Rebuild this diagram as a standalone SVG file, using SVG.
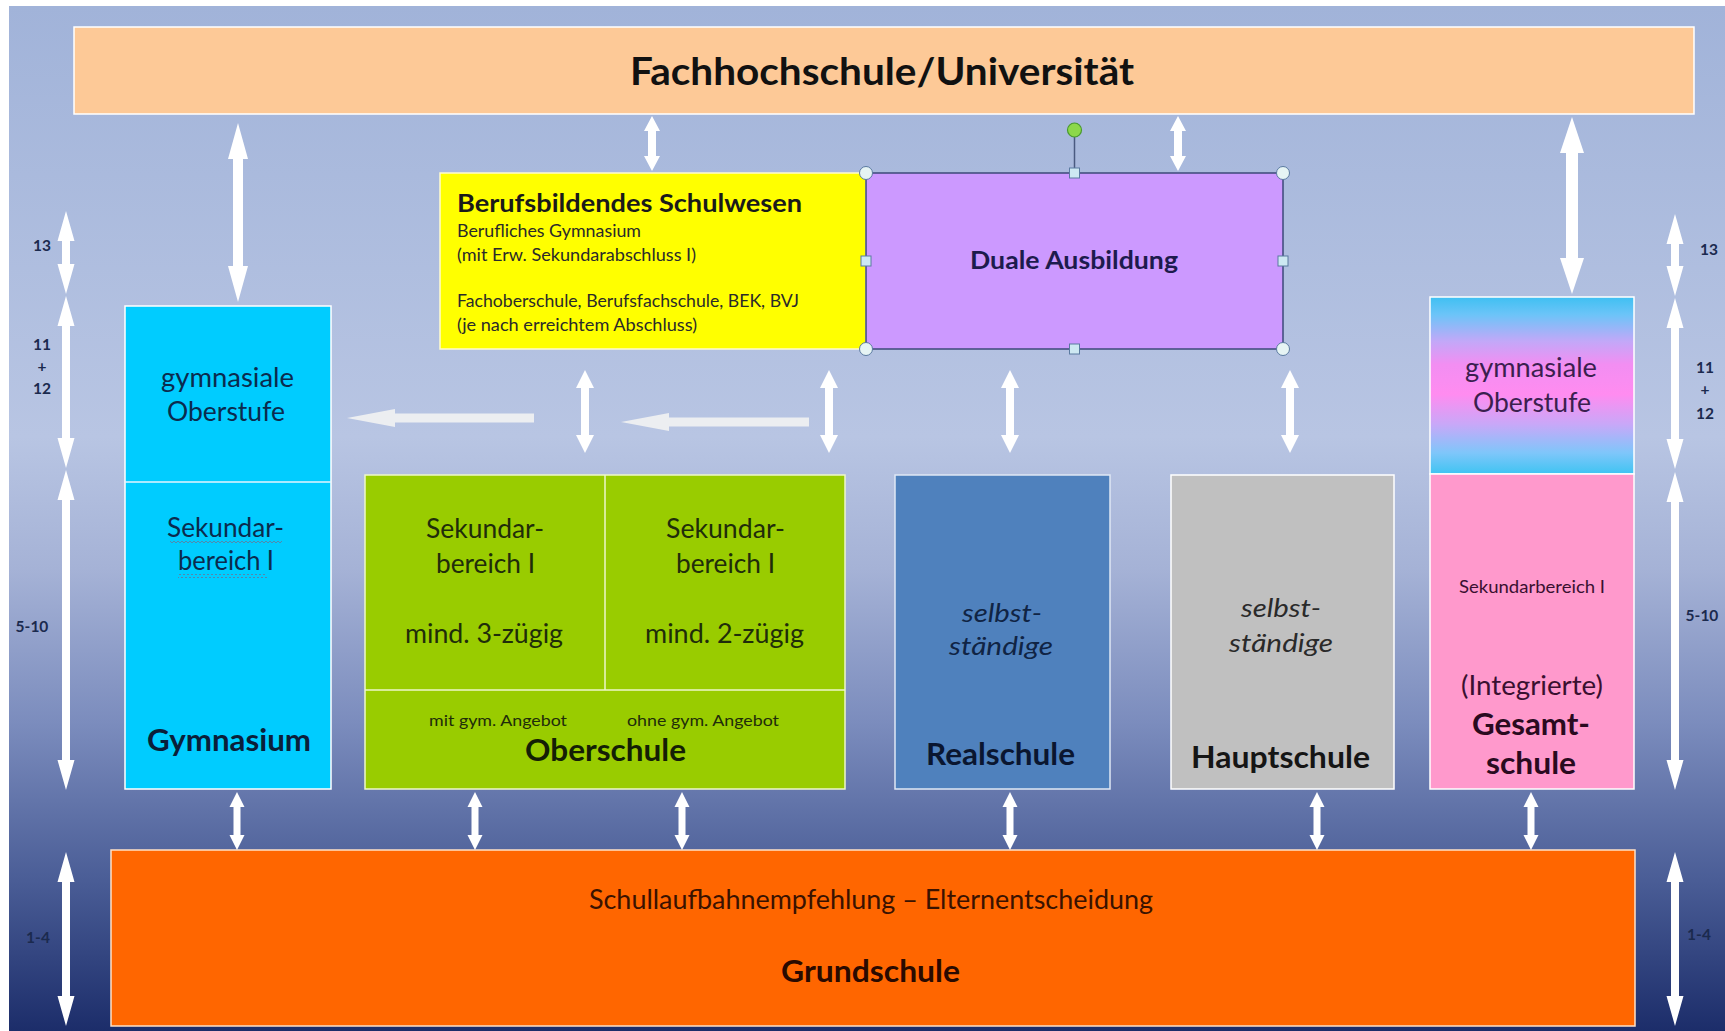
<svg xmlns="http://www.w3.org/2000/svg" width="1725" height="1031" viewBox="0 0 1725 1031">
<defs>
<linearGradient id="bg" x1="0" y1="0" x2="0" y2="1">
<stop offset="0" stop-color="#a1b3d9"/>
<stop offset="0.42" stop-color="#b8c5e3"/>
<stop offset="0.55" stop-color="#a5b2d6"/>
<stop offset="0.7" stop-color="#7b8cbd"/>
<stop offset="0.85" stop-color="#4b5e97"/>
<stop offset="1" stop-color="#1c2d6a"/>
</linearGradient>
<linearGradient id="gymo" x1="0" y1="0" x2="0" y2="1">
<stop offset="0" stop-color="#3fc0f2"/>
<stop offset="0.1" stop-color="#6cc4f8"/>
<stop offset="0.25" stop-color="#c2a8f8"/>
<stop offset="0.38" stop-color="#f28ef2"/>
<stop offset="0.55" stop-color="#ff8cf0"/>
<stop offset="0.72" stop-color="#c8a8f8"/>
<stop offset="0.88" stop-color="#7fc6fa"/>
<stop offset="1" stop-color="#3fc4f2"/>
</linearGradient>
<pattern id="wave" x="0" y="0" width="4" height="4" patternUnits="userSpaceOnUse">
<path d="M0,3 L2,1 L4,3" fill="none" stroke="#5e7fa3" stroke-width="0.9"/>
</pattern>
</defs>
<style>
.t{font-family:Lato,'Liberation Sans',sans-serif}
.b{font-weight:700}
.i{font-style:italic}
.arr{fill:#ffffff}
.harr{fill:#eceef1}
.ax{font-family:Lato,'Liberation Sans',sans-serif;font-weight:700;font-size:15.5px;fill:#1b2a4e;text-anchor:middle}
.box{stroke:#ffffff;stroke-width:1.5}
.hc{fill:#e6f4f4;stroke:#5a7aa0;stroke-width:1}
.hs{fill:#cde8f2;stroke:#5a7aa0;stroke-width:1}
</style>

<rect x="0" y="0" width="1725" height="1031" fill="#ffffff"/>
<rect x="9" y="6" width="1716" height="1025" fill="url(#bg)"/>

<g id="title">
<rect class="box" x="74" y="27" width="1620" height="87" fill="#fdc997"/>
<text class="t b" x="630" y="85" font-size="38" textLength="504" lengthAdjust="spacingAndGlyphs" fill="#111111">Fachhochschule/Universität</text>
</g>

<g id="berufsbildend">
<rect x="440" y="173" width="426" height="176" fill="#ffff00" stroke="#fffbd0" stroke-width="1.5"/>
<text class="t b" x="457" y="212" font-size="25" textLength="345" lengthAdjust="spacingAndGlyphs" fill="#1a1a1a">Berufsbildendes Schulwesen</text>
<g class="t" font-size="16.5" fill="#2a2a2a">
<text x="457" y="237" textLength="184" lengthAdjust="spacingAndGlyphs">Berufliches Gymnasium</text>
<text x="457" y="261" textLength="239" lengthAdjust="spacingAndGlyphs">(mit Erw. Sekundarabschluss I)</text>
<text x="457" y="307" textLength="342" lengthAdjust="spacingAndGlyphs">Fachoberschule, Berufsfachschule, BEK, BVJ</text>
<text x="457" y="331" textLength="240" lengthAdjust="spacingAndGlyphs">(je nach erreichtem Abschluss)</text>
</g>
</g>

<g id="duale">
<rect x="866" y="173" width="417" height="176" fill="#cc99ff" stroke="#3c4a7a" stroke-width="1.5"/>
<text class="t b" x="970" y="269" font-size="25.5" textLength="208" lengthAdjust="spacingAndGlyphs" fill="#1d1b4d">Duale Ausbildung</text>
<line x1="1074.5" y1="137" x2="1074.5" y2="168" stroke="#4a5a80" stroke-width="1.5"/>
<circle cx="1074.5" cy="130" r="7" fill="#8cd84a" stroke="#4a9a30" stroke-width="1.2"/>
<circle class="hc" cx="866" cy="173" r="6.5"/>
<circle class="hc" cx="1283" cy="173" r="6.5"/>
<circle class="hc" cx="866" cy="349" r="6.5"/>
<circle class="hc" cx="1283" cy="349" r="6.5"/>
<rect class="hs" x="1069.5" y="168" width="10" height="10"/>
<rect class="hs" x="1069.5" y="344" width="10" height="10"/>
<rect class="hs" x="861" y="256" width="10" height="10"/>
<rect class="hs" x="1278" y="256" width="10" height="10"/>
</g>

<g id="gymnasium">
<rect class="box" x="125" y="306" width="206" height="483" fill="#00ccff"/>
<line x1="125" y1="482" x2="331" y2="482" stroke="#e6f4ff" stroke-width="1.5"/>
<g class="t" font-size="26" fill="#0b2b4e">
<text x="161" y="387" textLength="133" lengthAdjust="spacingAndGlyphs">gymnasiale</text>
<text x="167" y="421" textLength="118" lengthAdjust="spacingAndGlyphs">Oberstufe</text>
<text x="167" y="537" textLength="117" lengthAdjust="spacingAndGlyphs">Sekundar-</text>
<text x="178" y="570" textLength="96" lengthAdjust="spacingAndGlyphs">bereich I</text>
</g>
<rect x="170" y="541" width="112" height="4" fill="url(#wave)"/>
<rect x="178" y="574" width="89" height="4" fill="url(#wave)"/>
<text class="t b" x="147" y="751" font-size="30" textLength="164" lengthAdjust="spacingAndGlyphs" fill="#0a1f3a">Gymnasium</text>
</g>

<g id="oberschule">
<rect x="365" y="475" width="480" height="314" fill="#99cc00" stroke="#eef7c8" stroke-width="1.5"/>
<line x1="605" y1="475" x2="605" y2="690" stroke="#eef7c8" stroke-width="1.5"/>
<line x1="365" y1="690" x2="845" y2="690" stroke="#eef7c8" stroke-width="1.5"/>
<g class="t" font-size="26" fill="#1f2d0a">
<text x="426" y="538" textLength="118" lengthAdjust="spacingAndGlyphs">Sekundar-</text>
<text x="436" y="573" textLength="99" lengthAdjust="spacingAndGlyphs">bereich I</text>
<text x="405" y="643" textLength="158" lengthAdjust="spacingAndGlyphs">mind. 3-zügig</text>
<text x="666" y="538" textLength="119" lengthAdjust="spacingAndGlyphs">Sekundar-</text>
<text x="676" y="573" textLength="99" lengthAdjust="spacingAndGlyphs">bereich I</text>
<text x="645" y="643" textLength="159" lengthAdjust="spacingAndGlyphs">mind. 2-zügig</text>
</g>
<g class="t" font-size="16" fill="#1f2d0a">
<text x="429" y="726" textLength="138" lengthAdjust="spacingAndGlyphs">mit gym. Angebot</text>
<text x="627" y="726" textLength="152" lengthAdjust="spacingAndGlyphs">ohne gym. Angebot</text>
</g>
<text class="t b" x="525" y="761" font-size="30" textLength="161" lengthAdjust="spacingAndGlyphs" fill="#141f05">Oberschule</text>
</g>

<g id="realschule">
<rect x="895" y="475" width="215" height="314" fill="#4f81bd" stroke="#dfe8f5" stroke-width="1.5"/>
<g class="t i" font-size="26" fill="#102444">
<text x="962" y="622" textLength="80" lengthAdjust="spacingAndGlyphs">selbst-</text>
<text x="949" y="655" textLength="104" lengthAdjust="spacingAndGlyphs">ständige</text>
</g>
<text class="t b" x="926" y="765" font-size="30" textLength="149" lengthAdjust="spacingAndGlyphs" fill="#0a1630">Realschule</text>
</g>

<g id="hauptschule">
<rect class="box" x="1171" y="475" width="223" height="314" fill="#c0c0c0"/>
<g class="t i" font-size="26" fill="#2a2a2a">
<text x="1241" y="617" textLength="80" lengthAdjust="spacingAndGlyphs">selbst-</text>
<text x="1229" y="652" textLength="104" lengthAdjust="spacingAndGlyphs">ständige</text>
</g>
<text class="t b" x="1191" y="768" font-size="30" textLength="179" lengthAdjust="spacingAndGlyphs" fill="#151515">Hauptschule</text>
</g>

<g id="gesamtschule">
<rect class="box" x="1430" y="297" width="204" height="177" fill="url(#gymo)"/>
<rect class="box" x="1430" y="474" width="204" height="315" fill="#ff99cc"/>
<g class="t" font-size="26" fill="#3b1f4f">
<text x="1465" y="377" textLength="132" lengthAdjust="spacingAndGlyphs">gymnasiale</text>
<text x="1473" y="412" textLength="118" lengthAdjust="spacingAndGlyphs">Oberstufe</text>
</g>
<text class="t" x="1459" y="593" font-size="17" textLength="146" lengthAdjust="spacingAndGlyphs" fill="#3a1030">Sekundarbereich I</text>
<text class="t" x="1461" y="695" font-size="26" textLength="142" lengthAdjust="spacingAndGlyphs" fill="#3a1030">(Integrierte)</text>
<text class="t b" x="1472" y="735" font-size="30" textLength="118" lengthAdjust="spacingAndGlyphs" fill="#2a0a20">Gesamt-</text>
<text class="t b" x="1486" y="774" font-size="30" textLength="90" lengthAdjust="spacingAndGlyphs" fill="#2a0a20">schule</text>
</g>

<g id="grundschule">
<rect x="111" y="850" width="1524" height="176" fill="#ff6600" stroke="#ffe2c8" stroke-width="1.5"/>
<text class="t" x="589" y="909" font-size="26" textLength="564" lengthAdjust="spacingAndGlyphs" fill="#3a1200">Schullaufbahnempfehlung – Elternentscheidung</text>
<text class="t b" x="781" y="982" font-size="30" textLength="179" lengthAdjust="spacingAndGlyphs" fill="#2a0a00">Grundschule</text>
</g>

<g id="axis">
<polygon class="arr" points="66,211 74.5,241 70,241 70,264 74.5,264 66,294 57.5,264 62,264 62,241 57.5,241"/>
<polygon class="arr" points="66,296 74.5,326 70,326 70,438 74.5,438 66,468 57.5,438 62,438 62,326 57.5,326"/>
<polygon class="arr" points="66,470 74.5,500 70,500 70,760 74.5,760 66,790 57.5,760 62,760 62,500 57.5,500"/>
<polygon class="arr" points="66,852 74.5,882 70,882 70,996 74.5,996 66,1026 57.5,996 62,996 62,882 57.5,882"/>
<polygon class="arr" points="1675,214 1683.5,244 1679,244 1679,266 1683.5,266 1675,296 1666.5,266 1671,266 1671,244 1666.5,244"/>
<polygon class="arr" points="1675,298 1683.5,328 1679,328 1679,439 1683.5,439 1675,469 1666.5,439 1671,439 1671,328 1666.5,328"/>
<polygon class="arr" points="1675,472 1683.5,502 1679,502 1679,760 1683.5,760 1675,790 1666.5,760 1671,760 1671,502 1666.5,502"/>
<polygon class="arr" points="1675,852 1683.5,882 1679,882 1679,996 1683.5,996 1675,1026 1666.5,996 1671,996 1671,882 1666.5,882"/>
<text class="ax" x="42" y="251">13</text>
<text class="ax" x="42" y="350">11</text>
<text class="ax" x="42" y="372">+</text>
<text class="ax" x="42" y="394">12</text>
<text class="ax" x="32" y="632">5-10</text>
<text class="ax" x="38" y="943">1-4</text>
<text class="ax" x="1709" y="255">13</text>
<text class="ax" x="1705" y="373">11</text>
<text class="ax" x="1705" y="395">+</text>
<text class="ax" x="1705" y="419">12</text>
<text class="ax" x="1702" y="621">5-10</text>
<text class="ax" x="1699" y="940">1-4</text>
</g>

<g id="connectors">
<polygon class="arr" points="238,123 248,159 243,159 243,266 248,266 238,302 228,266 233,266 233,159 228,159"/>
<polygon class="arr" points="652,116 660,131 656,131 656,156 660,156 652,171 644,156 648,156 648,131 644,131"/>
<polygon class="arr" points="1178,116 1186,131 1182,131 1182,156 1186,156 1178,171 1170,156 1174,156 1174,131 1170,131"/>
<polygon class="arr" points="1572,117 1584,153 1578,153 1578,258 1584,258 1572,294 1560,258 1566,258 1566,153 1560,153"/>
<polygon class="arr" points="585,370 594,388 589,388 589,435 594,435 585,453 576,435 581,435 581,388 576,388"/>
<polygon class="arr" points="829,370 838,388 833,388 833,435 838,435 829,453 820,435 825,435 825,388 820,388"/>
<polygon class="arr" points="1010,370 1019,388 1014,388 1014,435 1019,435 1010,453 1001,435 1006,435 1006,388 1001,388"/>
<polygon class="arr" points="1290,370 1299,388 1294,388 1294,435 1299,435 1290,453 1281,435 1286,435 1286,388 1281,388"/>
<polygon class="harr" points="347,418 395,409 395,413.5 534,413.5 534,422.5 395,422.5 395,427"/>
<polygon class="harr" points="621,422 669,413 669,417.5 809,417.5 809,426.5 669,426.5 669,431"/>
<polygon class="arr" points="237,792 244.5,807 240.5,807 240.5,835 244.5,835 237,850 229.5,835 233.5,835 233.5,807 229.5,807"/>
<polygon class="arr" points="475,792 482.5,807 478.5,807 478.5,835 482.5,835 475,850 467.5,835 471.5,835 471.5,807 467.5,807"/>
<polygon class="arr" points="682,792 689.5,807 685.5,807 685.5,835 689.5,835 682,850 674.5,835 678.5,835 678.5,807 674.5,807"/>
<polygon class="arr" points="1010,792 1017.5,807 1013.5,807 1013.5,835 1017.5,835 1010,850 1002.5,835 1006.5,835 1006.5,807 1002.5,807"/>
<polygon class="arr" points="1317,792 1324.5,807 1320.5,807 1320.5,835 1324.5,835 1317,850 1309.5,835 1313.5,835 1313.5,807 1309.5,807"/>
<polygon class="arr" points="1531,792 1538.5,807 1534.5,807 1534.5,835 1538.5,835 1531,850 1523.5,835 1527.5,835 1527.5,807 1523.5,807"/>
</g>
</svg>
